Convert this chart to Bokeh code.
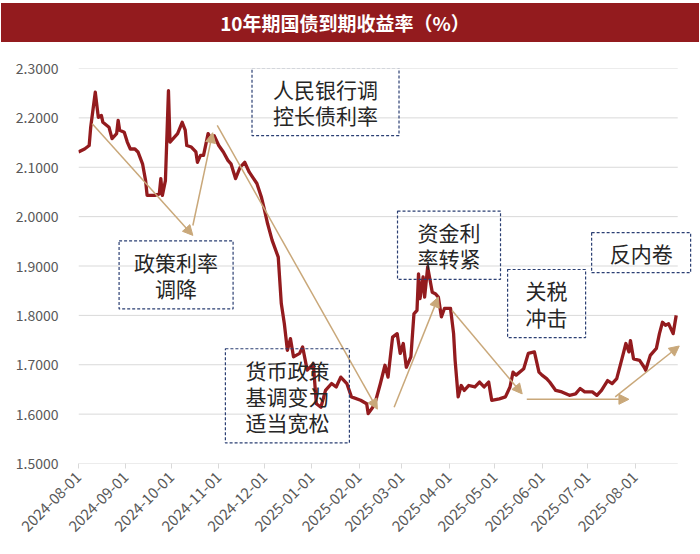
from math import pi

import pandas as pd
from bokeh.embed import file_html
from bokeh.layouts import column
from bokeh.models import (Arrow, DatetimeTickFormatter, Div, FixedTicker, Label,
                          NormalHead, PrintfTickFormatter, Range1d)
from bokeh.plotting import figure
from bokeh.resources import INLINE

TITLE = "10年期国债到期收益率（%）"

# 10y CGB yield
dates = [
    "2024-08-01", "2024-08-05", "2024-08-08", "2024-08-09", "2024-08-12", "2024-08-14",
    "2024-08-16", "2024-08-17", "2024-08-21", "2024-08-23", "2024-08-26", "2024-08-27",
    "2024-08-28", "2024-08-31", "2024-09-02", "2024-09-04", "2024-09-07", "2024-09-09",
    "2024-09-12", "2024-09-14", "2024-09-15", "2024-09-20", "2024-09-23", "2024-09-24",
    "2024-09-25", "2024-09-27", "2024-09-29", "2024-09-30", "2024-10-05", "2024-10-08",
    "2024-10-10", "2024-10-11", "2024-10-14", "2024-10-17", "2024-10-18", "2024-10-20",
    "2024-10-22", "2024-10-25", "2024-10-27", "2024-10-29", "2024-11-01", "2024-11-04",
    "2024-11-07", "2024-11-09", "2024-11-12", "2024-11-15", "2024-11-18", "2024-11-21",
    "2024-11-26", "2024-11-29", "2024-12-01", "2024-12-03", "2024-12-06", "2024-12-10",
    "2024-12-12", "2024-12-14", "2024-12-16", "2024-12-18", "2024-12-20", "2024-12-24",
    "2024-12-26", "2024-12-29", "2025-01-02", "2025-01-04", "2025-01-07", "2025-01-10",
    "2025-01-14", "2025-01-17", "2025-01-20", "2025-01-24", "2025-01-27", "2025-02-02",
    "2025-02-06", "2025-02-07", "2025-02-10", "2025-02-12", "2025-02-15", "2025-02-18",
    "2025-02-20", "2025-02-23", "2025-02-26", "2025-02-28", "2025-03-02", "2025-03-04",
    "2025-03-07", "2025-03-09", "2025-03-11", "2025-03-12", "2025-03-13", "2025-03-15",
    "2025-03-16", "2025-03-18", "2025-03-21", "2025-03-23", "2025-03-25", "2025-03-27",
    "2025-03-29", "2025-04-02", "2025-04-04", "2025-04-05", "2025-04-07", "2025-04-09",
    "2025-04-11", "2025-04-14", "2025-04-18", "2025-04-21", "2025-04-24", "2025-04-27",
    "2025-04-29", "2025-05-04", "2025-05-08", "2025-05-11", "2025-05-13", "2025-05-15",
    "2025-05-20", "2025-05-23", "2025-05-27", "2025-05-30", "2025-06-01", "2025-06-04",
    "2025-06-06", "2025-06-10", "2025-06-14", "2025-06-19", "2025-06-23", "2025-06-26",
    "2025-06-29", "2025-07-04", "2025-07-07", "2025-07-10", "2025-07-14", "2025-07-17",
    "2025-07-20", "2025-07-24", "2025-07-26", "2025-07-28", "2025-07-29", "2025-07-31",
    "2025-08-04", "2025-08-07", "2025-08-08", "2025-08-11", "2025-08-15", "2025-08-17",
    "2025-08-19", "2025-08-21", "2025-08-23", "2025-08-26", "2025-08-28",
]
yields = [
    2.131, 2.137, 2.144, 2.181, 2.252, 2.201,
    2.205, 2.191, 2.181, 2.158, 2.168, 2.195,
    2.175, 2.171, 2.151, 2.137, 2.137, 2.131,
    2.107, 2.073, 2.043, 2.043, 2.046, 2.077,
    2.043, 2.073, 2.255, 2.151, 2.168, 2.191,
    2.175, 2.144, 2.141, 2.131, 2.110, 2.124,
    2.124, 2.168, 2.158, 2.164, 2.144, 2.131,
    2.114, 2.107, 2.077, 2.100, 2.110, 2.090,
    2.067, 2.039, 2.013, 1.986, 1.952, 1.918,
    1.824, 1.783, 1.729, 1.753, 1.716, 1.723,
    1.736, 1.689, 1.702, 1.621, 1.614, 1.648,
    1.662, 1.655, 1.675, 1.662, 1.635, 1.628,
    1.621, 1.601, 1.614, 1.628, 1.662, 1.699,
    1.675, 1.756, 1.763, 1.723, 1.743, 1.695,
    1.716, 1.803, 1.810, 1.884, 1.834, 1.878,
    1.837, 1.898, 1.847, 1.844, 1.837, 1.797,
    1.814, 1.814, 1.763, 1.709, 1.635, 1.658,
    1.648, 1.658, 1.655, 1.665, 1.655, 1.665,
    1.628, 1.631, 1.635, 1.655, 1.685, 1.679,
    1.692, 1.723, 1.726, 1.685, 1.679, 1.672,
    1.665, 1.648, 1.645, 1.638, 1.641, 1.652,
    1.645, 1.645, 1.638, 1.648, 1.668, 1.662,
    1.672, 1.719, 1.743, 1.726, 1.749, 1.712,
    1.709, 1.695, 1.689, 1.719, 1.733, 1.763,
    1.786, 1.780, 1.783, 1.763, 1.800,
]

y_ticks = [1.5, 1.6, 1.7, 1.8, 1.9, 2.0, 2.1, 2.2, 2.3]
month_ticks = ["2024-08-01", "2024-09-01", "2024-10-01", "2024-11-01", "2024-12-01",
               "2025-01-01", "2025-02-01", "2025-03-01", "2025-04-01", "2025-05-01",
               "2025-06-01", "2025-07-01", "2025-08-01"]
axis_start, axis_end = "2024-08-01", "2025-08-29"

# event notes
notes = ["人民银行调\n控长债利率", "政策利率\n调降", "货币政策\n基调变为\n适当宽松",
         "资金利\n率转紧", "关税\n冲击", "反内卷"]
note_dates = ["2025-01-10", "2024-10-04", "2024-12-16", "2025-04-01", "2025-06-04", "2025-08-05"]
note_values = [2.233, 1.882, 1.637, 1.942, 1.824, 1.927]
note_pads = [(21, 6), (15, 6), (20, 6), (20, 6), (18, 6), (18, 5)]

# trend arrows: (start date, start value, end date, end value)
trends = [
    ("2024-08-10", 2.188, "2024-10-15", 1.962),
    ("2024-10-15", 1.982, "2024-10-28", 2.170),
    ("2024-10-31", 2.185, "2025-02-13", 1.610),
    ("2025-02-24", 1.614, "2025-03-25", 1.837),
    ("2025-04-03", 1.810, "2025-05-19", 1.641),
    ("2025-05-22", 1.630, "2025-07-28", 1.630),
    ("2025-07-19", 1.635, "2025-08-30", 1.738),
]

RED = "#931B1E"
TAN = "#C9A87A"
NAVY = "#2B3F73"
GRID = "#D9D9D9"
FONT = "Noto Sans CJK SC"


def ms(s):
    return pd.Timestamp(s).value / 1e6


header = Div(text=TITLE, width=698, height=39, margin=(3, 1, 0, 1),
             styles={"background-color": RED, "color": "white", "font-family": FONT,
                     "font-weight": "bold", "font-size": "19px", "text-align": "center",
                     "line-height": "39px", "padding-right": "10px",
                     "box-sizing": "border-box"})

# frame runs a little past the last date so the right-hand note fits
p = figure(width=700, height=510, toolbar_location=None, output_backend="svg",
           x_axis_type="datetime",
           x_range=Range1d(pd.Timestamp("2024-08-01"), pd.Timestamp("2025-09-09")),
           y_range=Range1d(1.5, 2.3),
           min_border_left=78, min_border_right=6, min_border_top=26, min_border_bottom=89)
p.outline_line_color = None
p.background_fill_color = "white"
p.grid.visible = False

# grid lines stop at the last date, like the axis line
for t in y_ticks:
    p.segment(x0=pd.Timestamp(axis_start), y0=t, x1=pd.Timestamp(axis_end), y1=t,
              line_color=GRID, line_width=1)

p.line(pd.to_datetime(dates), yields, line_color=RED, line_width=3.3, line_join="round")

p.yaxis.ticker = FixedTicker(ticks=y_ticks)
p.yaxis.formatter = PrintfTickFormatter(format="%.4f")
p.yaxis.axis_line_color = None
p.yaxis.major_tick_line_color = None
p.yaxis.major_tick_out = 0
p.yaxis.minor_tick_line_color = None
p.yaxis.major_label_standoff = 20

fmt = "%Y-%m-%d"
p.xaxis.ticker = FixedTicker(ticks=[ms(d) for d in month_ticks])
p.xaxis.formatter = DatetimeTickFormatter(days=fmt, months=fmt, years=fmt, hours=fmt)
p.xaxis.major_label_orientation = pi / 4
p.xaxis.axis_line_color = None
p.xaxis.major_tick_line_color = GRID
p.xaxis.major_tick_in = 0
p.xaxis.major_tick_out = 5
p.xaxis.minor_tick_line_color = None
p.xaxis.major_label_standoff = 6

p.yaxis.major_label_text_font_size = "14px"
p.xaxis.major_label_text_font_size = "15px"
for ax in p.axis:
    ax.major_label_text_font = FONT
    ax.major_label_text_color = "#595959"

for x0, y0, x1, y1 in trends:
    p.add_layout(Arrow(x_start=ms(x0), y_start=y0, x_end=ms(x1), y_end=y1,
                       line_color=TAN, line_width=1.5,
                       end=NormalHead(size=10, fill_color=TAN, line_color=TAN)))

for txt, d, v, pad in zip(notes, note_dates, note_values, note_pads):
    p.add_layout(Label(x=ms(d), y=v, text=txt, text_align="center", text_baseline="middle",
                       text_font=FONT, text_font_size="21px", text_color="#262626",
                       text_line_height=0.87, padding=pad,
                       border_line_color=NAVY, border_line_dash="3 2", border_line_width=1.2))

layout = column(header, p, spacing=0)
open("out.html", "w").write(file_html(layout, INLINE))
